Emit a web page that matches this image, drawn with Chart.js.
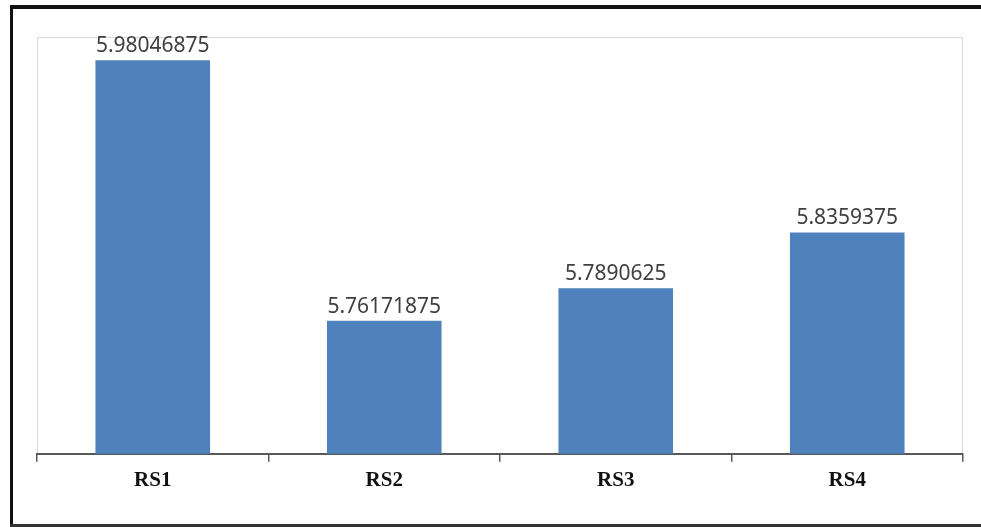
<!DOCTYPE html>
<html>
<head>
<meta charset="utf-8">
<script src="https://cdn.jsdelivr.net/npm/chart.js@4/dist/chart.umd.min.js"></script>
<style>
  html, body { margin: 0; padding: 0; background: #fff; }
  #wrap { width: 981px; height: 527px; position: relative; }
</style>
</head>
<body>
<div id="wrap"><canvas id="rsChart"></canvas></div>
<script>
// 各組數值
const categories = ['RS1', 'RS2', 'RS3', 'RS4'];
const values = [5.98046875, 5.76171875, 5.7890625, 5.8359375];
const valueLabels = ['5.98046875', '5.76171875', '5.7890625', '5.8359375'];
const yMin = 5.65;
const yMax = 6.0;

// 外框與繪圖區邊線
const framePlugin = {
    id: 'frame',
    beforeDraw(chart) {
        const { ctx, chartArea: a, width, height } = chart;
        ctx.save();
        ctx.fillStyle = '#ffffff';
        ctx.fillRect(0, 0, width, height);
        ctx.strokeStyle = '#d9d9d9';
        ctx.lineWidth = 1;
        ctx.beginPath();
        ctx.moveTo(a.left + 0.5, a.bottom);
        ctx.lineTo(a.left + 0.5, a.top + 0.5);
        ctx.lineTo(a.right - 0.5, a.top + 0.5);
        ctx.lineTo(a.right - 0.5, a.bottom);
        ctx.stroke();
        ctx.restore();
    },
    afterDraw(chart) {
        const { ctx, width } = chart;
        ctx.save();
        ctx.fillStyle = '#111111';
        ctx.fillRect(10, 5, width - 10, 4);
        ctx.fillRect(10, 5, 3, 522);
        ctx.fillStyle = '#333333';
        ctx.fillRect(10, 524, width - 10, 3);
        ctx.restore();
    }
};

// 長條上方數值
const valueLabelPlugin = {
    id: 'valueLabels',
    afterDatasetsDraw(chart) {
        const { ctx } = chart;
        const meta = chart.getDatasetMeta(0);
        ctx.save();
        ctx.font = '21px "Noto Sans"';
        ctx.fillStyle = '#404040';
        ctx.textAlign = 'center';
        ctx.textBaseline = 'alphabetic';
        meta.data.forEach((bar, i) => {
            ctx.fillText(valueLabels[i], bar.x, bar.y - 8);
        });
        ctx.restore();
    }
};

new Chart(document.getElementById('rsChart'), {
    type: 'bar',
    data: {
        labels: categories,
        datasets: [{
            data: values,
            backgroundColor: '#4f81bd',
            borderWidth: 0,
            categoryPercentage: 1,
            barPercentage: 0.495
        }]
    },
    options: {
        responsive: true,
        maintainAspectRatio: false,
        animation: false,
        layout: {
            padding: { left: 37, top: 37, right: 18, bottom: 28 }
        },
        plugins: {
            legend: { display: false },
            tooltip: { enabled: false }
        },
        scales: {
            x: {
                grid: {
                    drawOnChartArea: false,
                    drawTicks: true,
                    tickLength: 8,
                    color: '#595959',
                    lineWidth: 1.5,
                    offset: true
                },
                border: { display: true, color: '#595959', width: 2 },
                ticks: {
                    color: '#111111',
                    padding: 6,
                    font: { family: '"Liberation Serif"', size: 21, weight: 'bold' }
                }
            },
            y: {
                display: false,
                min: yMin,
                max: yMax
            }
        }
    },
    plugins: [framePlugin, valueLabelPlugin]
});
</script>
</body>
</html>
